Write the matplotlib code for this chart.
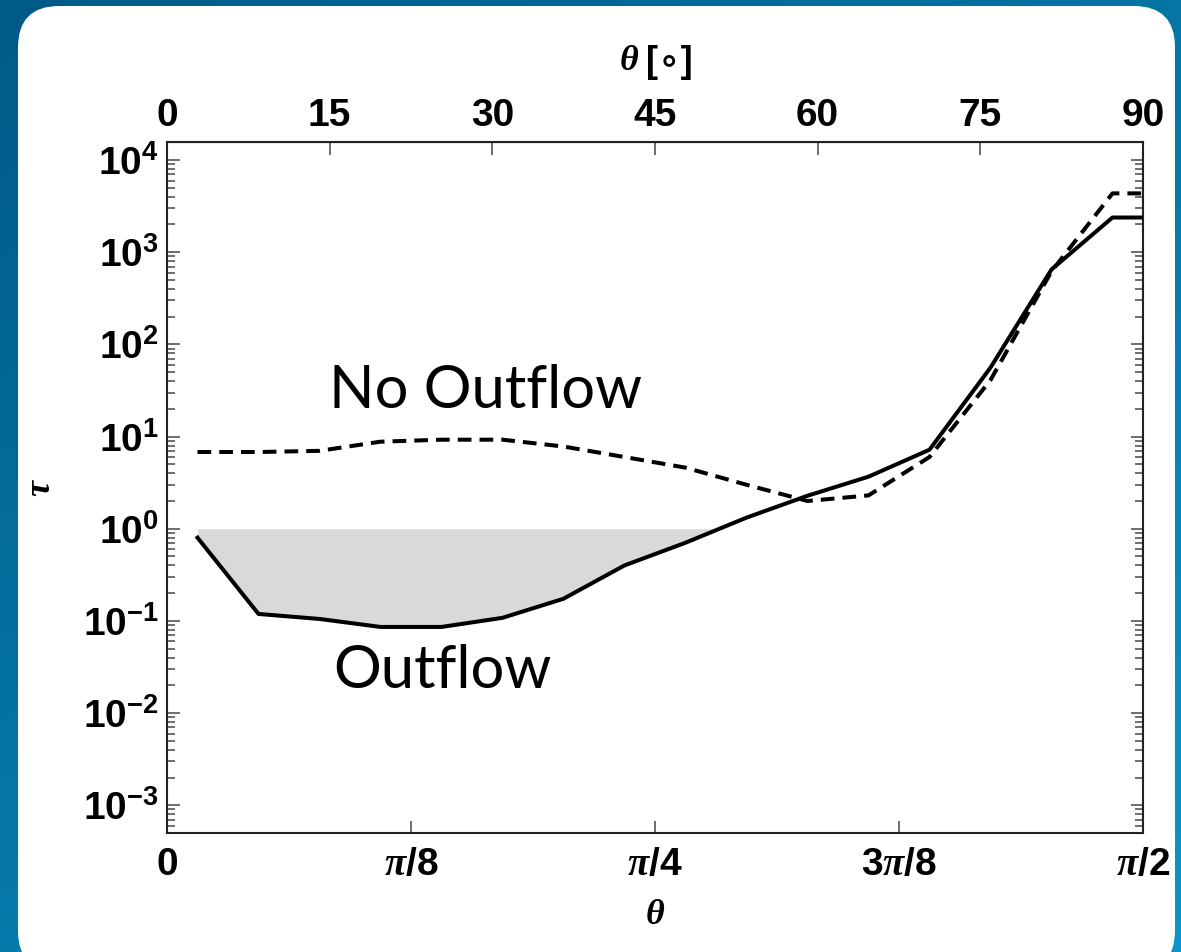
import numpy as np
import matplotlib
matplotlib.use("Agg")
import matplotlib.pyplot as plt
from matplotlib.patches import FancyBboxPatch

plt.rcParams['font.family'] = ['Liberation Sans', 'DejaVu Sans']
plt.rcParams['font.weight'] = 'bold'
plt.rcParams['axes.labelweight'] = 'bold'
plt.rcParams['mathtext.fontset'] = 'custom'
plt.rcParams['mathtext.rm'] = 'Liberation Sans:bold'
plt.rcParams['mathtext.bf'] = 'Liberation Sans:bold'
plt.rcParams['mathtext.it'] = 'Liberation Serif:italic:bold'

# polar angle of each cell centre (in units of pi/64), plus the equator
theta_idx = [1, 3, 5, 7, 9, 11, 13, 15, 17, 19, 21, 23, 25, 27, 29, 31, 32]
tau_outflow = [0.80, 0.119, 0.105, 0.086, 0.086, 0.108, 0.174, 0.40, 0.705,
               1.32, 2.28, 3.67, 7.2, 56.0, 650.0, 2380.0, 2380.0]
tau_no_outflow = [6.8, 6.8, 7.0, 8.8, 9.25, 9.25, 7.8, 6.0, 4.6,
                  3.0, 2.0, 2.3, 6.0, 41.0, 620.0, 4350.0, 4350.0]

xtick_labels = ['0', r'$\pi/8$', r'$\pi/4$', r'$3\pi/8$', r'$\pi/2$']
top_ticks_deg = [0, 15, 30, 45, 60, 75, 90]

theta = np.array(theta_idx) * np.pi / 64
tau_out = np.array(tau_outflow)
tau_no = np.array(tau_no_outflow)

fig = plt.figure(figsize=(11.81, 9.52), dpi=100)

# blue gradient backdrop with a white rounded card
bg = fig.add_axes([0, 0, 1, 1], zorder=-10)
yy, xx = np.mgrid[0:1:200j, 0:1:200j]
t = 0.55 * yy + 0.45 * xx
c0 = np.array([0, 90, 135]) / 255
c1 = np.array([10, 150, 200]) / 255
grad = c0[None, None, :] * (1 - t[..., None]) + c1[None, None, :] * t[..., None]
bg.imshow(grad, extent=[0, 1, 0, 1], aspect='auto', origin='upper')
card = FancyBboxPatch((18 / 1181, -20 / 952), 1175 / 1181 - 18 / 1181, (946 + 20) / 952,
                      boxstyle="round,pad=0,rounding_size=0.035",
                      transform=bg.transAxes, facecolor='white', edgecolor='none',
                      mutation_aspect=1181 / 952)
bg.add_patch(card)
bg.set_xlim(0, 1)
bg.set_ylim(0, 1)
bg.axis('off')

ax = fig.add_axes([167 / 1181, 1 - 833 / 952, (1143 - 167) / 1181, (833 - 142) / 952])
ax.set_facecolor('none')

ax.fill_between(theta, tau_out, 1, where=tau_out < 1, interpolate=True,
                color='#d9d9d9', lw=0, zorder=1)
ax.plot(theta, tau_out, color='black', lw=2.9, zorder=3)
ax.plot(theta, tau_no, color='black', lw=2.9, dashes=(3.4, 2.0), zorder=3)

ax.set_yscale('log')
ax.set_ylim(5e-4, 1.57e4)
ax.set_xlim(0, np.pi / 2)
ax.set_yticks([1e-3, 1e-2, 1e-1, 1, 1e1, 1e2, 1e3, 1e4])
ax.set_xticks(np.arange(5) * np.pi / 8)
ax.set_xticklabels(xtick_labels)

ax.tick_params(which='both', direction='in', color='#555555', width=1.2,
               right=True, top=False, labelsize=28)
ax.tick_params(which='major', length=9)
ax.tick_params(which='minor', length=6)
ax.tick_params(axis='x', pad=10)
ax.tick_params(axis='y', pad=6)
for s in ax.spines.values():
    s.set_linewidth(1.5)
    s.set_color('#222222')

sec = ax.secondary_xaxis('top', functions=(np.degrees, np.radians))
sec.set_xticks(top_ticks_deg)
sec.tick_params(direction='in', length=9, width=1.2, color='#555555',
                labelsize=28, pad=6)

# top axis label: italic serif theta followed by a bold sans "[∘]"
fig.text(638 / 1181, 1 - 62 / 952, 'θ', ha='right', va='center', fontsize=26,
         family='Liberation Serif', style='italic', fontweight='bold')
fig.text(646 / 1181, 1 - 62 / 952, '[∘]', ha='left', va='center', fontsize=26,
         family=['Liberation Sans', 'DejaVu Sans'], fontweight='bold')

ax.set_xlabel(r'$\theta$', fontsize=26, labelpad=10)
ax.set_ylabel(r'$\tau$', fontsize=26, labelpad=18)

ax.text(0.326, 0.64, 'No Outflow', transform=ax.transAxes, ha='center', va='center',
        fontsize=43, fontweight='normal', family='Lato')
ax.text(0.282, 0.235, 'Outflow', transform=ax.transAxes, ha='center', va='center',
        fontsize=43, fontweight='normal', family='Lato')

fig.savefig('out.png', dpi=100)
